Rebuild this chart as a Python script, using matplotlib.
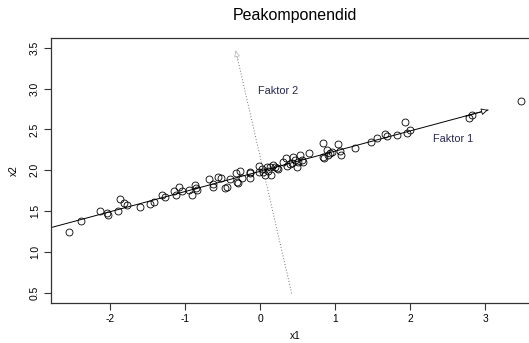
import numpy as np
import matplotlib.pyplot as plt

plt.rcParams['font.family'] = ['Liberation Sans', 'DejaVu Sans']
plt.rcParams['axes.unicode_minus'] = False

# data punten (x1, x2)
x1 = [-2.543, -2.387, -2.133, -2.036, -2.031, -1.897, -1.863, -1.817, -1.773, -1.604,
      -1.471, -1.417, -1.303, -1.267, -1.147, -1.124, -1.080, -1.036, -0.943, -0.903,
      -0.867, -0.857, -0.836, -0.680, -0.631, -0.623, -0.564, -0.520, -0.467, -0.444,
      -0.400, -0.320, -0.311, -0.289, -0.263, -0.240, -0.133, -0.133, -0.009, -0.017,
      -0.133, 0.044, 0.067, 0.089, 0.133, 0.147, 0.200, 0.223, 0.244, 0.347,
      0.356, 0.422, 0.444, 0.467, 0.489, 0.511, 0.533, 0.556, 0.578, 0.657,
      0.844, 0.853, 0.844, 0.889, 0.911, 0.933, 0.956, 1.036, 1.067, 1.076,
      1.267, 1.476, 1.556, 1.667, 1.689, 1.823, 1.933, 1.956, 2.000, 2.791,
      2.823, 3.476, 0.020, 0.110, 0.170, 0.400, 0.300]
x2 = [1.248, 1.383, 1.502, 1.481, 1.453, 1.502, 1.649, 1.604, 1.579, 1.554,
      1.588, 1.608, 1.694, 1.670, 1.743, 1.694, 1.799, 1.743, 1.759, 1.694,
      1.820, 1.780, 1.759, 1.894, 1.832, 1.799, 1.922, 1.902, 1.783, 1.799,
      1.894, 1.963, 1.860, 1.841, 1.995, 1.902, 1.909, 1.971, 2.056, 1.983,
      1.983, 1.983, 1.942, 2.044, 2.044, 1.942, 2.044, 2.024, 2.012, 2.147,
      2.053, 2.086, 2.167, 2.126, 2.044, 2.105, 2.187, 2.126, 2.105, 2.208,
      2.330, 2.147, 2.167, 2.248, 2.187, 2.208, 2.228, 2.322, 2.240, 2.187,
      2.269, 2.350, 2.392, 2.444, 2.420, 2.432, 2.588, 2.453, 2.493, 2.636,
      2.677, 2.852, 2.010, 1.990, 2.060, 2.080, 2.100]

# faktorid (algus- ja lopppunkt)
f1_x = [-3.0, 3.04]
f1_y = [1.246, 2.738]
f2_x = [0.422, -0.324]
f2_y = [0.494, 3.464]

fig = plt.figure(figsize=(5.29, 3.43), dpi=100)
ax = fig.add_axes([51/529, 40/343, 488/529, 265/343])

ax.plot(x1, x2, 'o', mfc='none', mec='black', ms=5, mew=0.6)

# faktor 1
ax.plot(f1_x, f1_y, color='black', lw=0.7)
ax.annotate('', xy=(f1_x[1], f1_y[1]),
            xytext=(f1_x[1] - 0.3, f1_y[1] - 0.3*0.247),
            arrowprops=dict(arrowstyle='-|>', fc='white', ec='black', lw=0.6,
                            mutation_scale=10, shrinkA=0, shrinkB=0))
ax.text(2.31, 2.383, 'Faktor 1', fontsize=7.8, color='#26264f', va='center')

# faktor 2
ax.plot(f2_x, f2_y, color='0.45', lw=0.7, ls=(0, (1, 2)))
ax.annotate('', xy=(f2_x[1], f2_y[1]),
            xytext=(f2_x[1] + 0.03, f2_y[1] - 0.12),
            arrowprops=dict(arrowstyle='-|>', fc='white', ec='0.75', lw=0.6,
                            mutation_scale=9, shrinkA=0, shrinkB=0))
ax.text(-0.03, 2.974, 'Faktor 2', fontsize=7.8, color='#26264f', va='center')

ax.set_xlim(-2.787, 3.72)
ax.set_ylim(0.376, 3.619)
ax.set_xticks([-2, -1, 0, 1, 2, 3])
ax.set_yticks([0.5, 1.0, 1.5, 2.0, 2.5, 3.0, 3.5])
ax.set_yticklabels(['0.5', '1.0', '1.5', '2.0', '2.5', '3.0', '3.5'],
                   rotation=90, va='center')
ax.tick_params(labelsize=7.4, length=5, width=0.8, color='#333333', pad=3)
for s in ax.spines.values():
    s.set_color('#333333')
    s.set_linewidth(0.9)

ax.set_xlabel('x1', fontsize=7.4, labelpad=5)
ax.set_ylabel('x2', fontsize=7.4, labelpad=8)
ax.set_title('Peakomponendid', fontsize=11.5, pad=13)

plt.savefig('out.png', dpi=100)
